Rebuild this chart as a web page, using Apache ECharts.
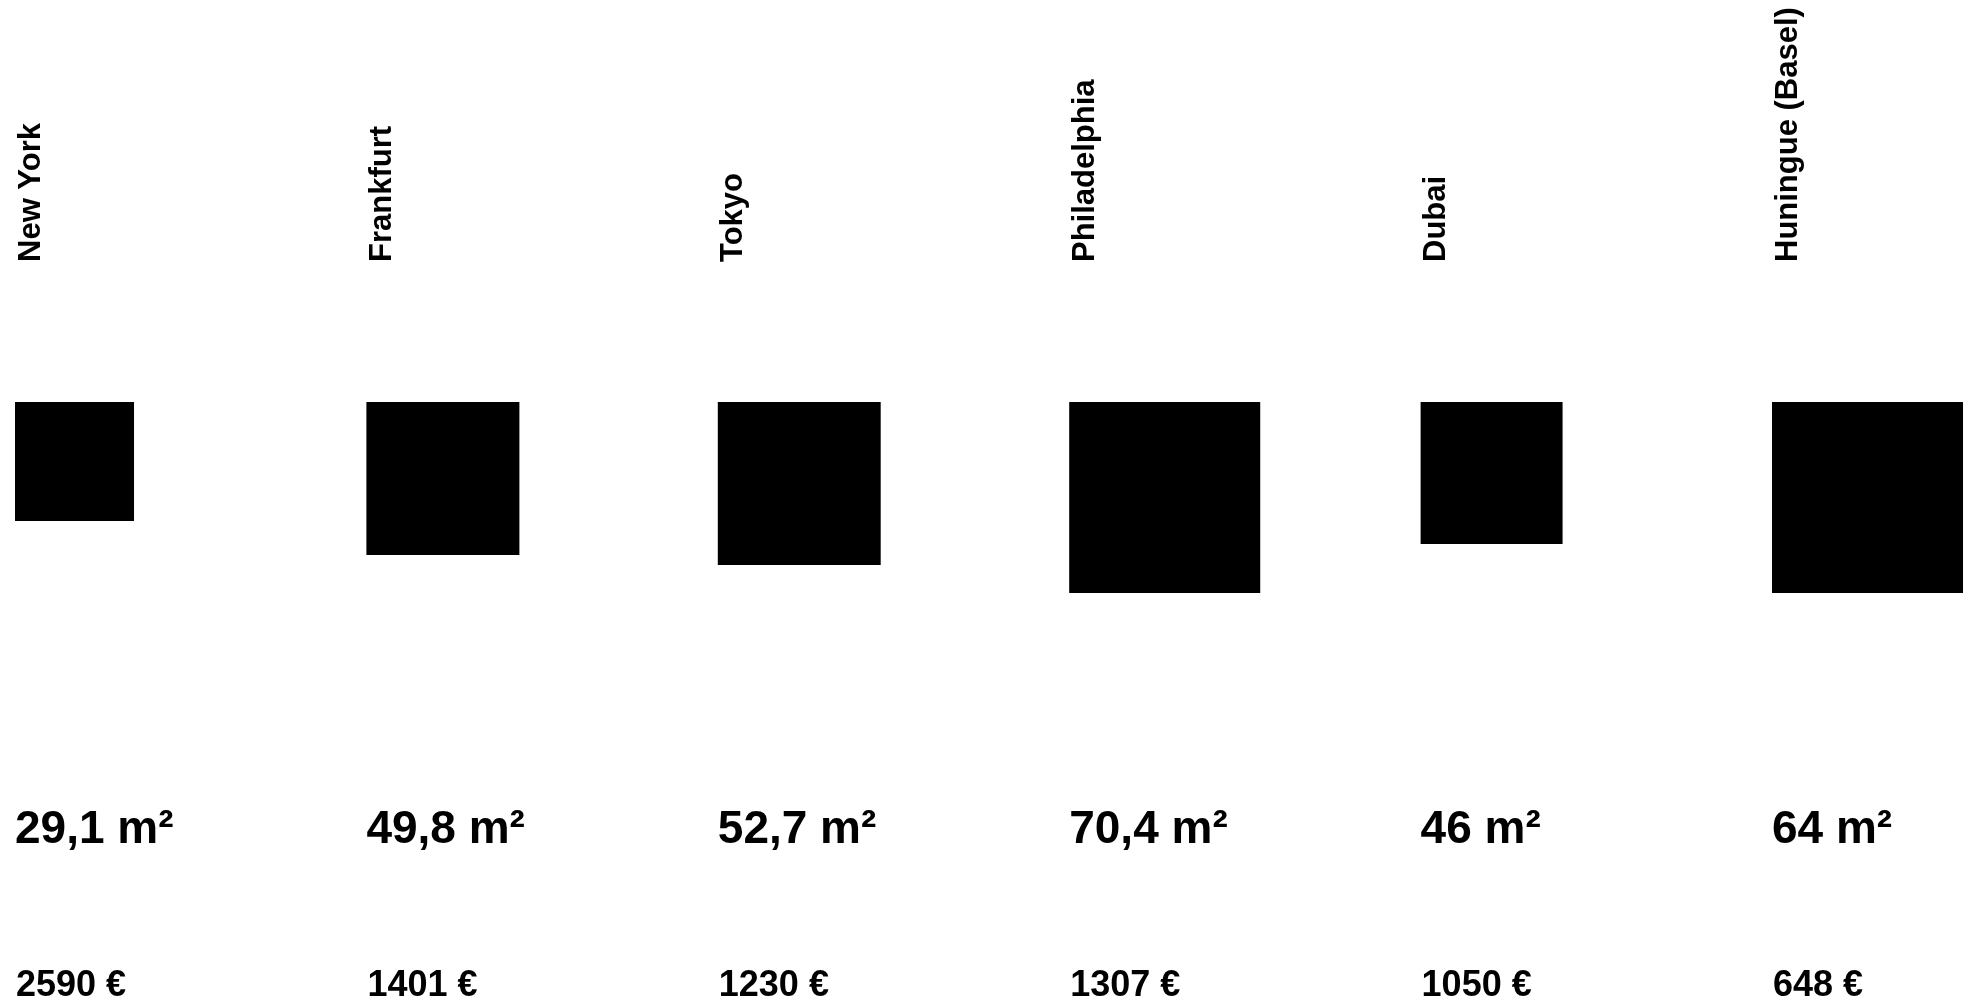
<!DOCTYPE html>
<html>
<head>
<meta charset="utf-8">
<script src="https://cdn.jsdelivr.net/npm/echarts@6/dist/echarts.min.js"></script>
<style>
  html, body { margin: 0; padding: 0; background: #ffffff; }
  #chart { width: 1969px; height: 1003px; }
</style>
</head>
<body>
<div id="chart"></div>
<script>
// ---- data ----
const cities = ['New York', 'Frankfurt', 'Tokyo', 'Philadelphia', 'Dubai', 'Huningue (Basel)'];
const areas = [29.1, 49.8, 52.7, 70.4, 46, 64];            // m²
const prices = [2590, 1401, 1230, 1307, 1050, 648];        // €
const squareSide = [5.29, 6.8, 7.24, 8.49, 6.31, 8.49];   // drawn side of each square, in axis units

const fontFamily = '"Liberation Sans", Arial, Helvetica, sans-serif';

const chart = echarts.init(document.getElementById('chart'), null, { renderer: 'canvas' });

const seriesData = cities.map((c, i) => [i, squareSide[i]]);

chart.setOption({
  backgroundColor: '#ffffff',
  animation: false,
  grid: { left: 15, right: 197, top: 402, height: 225 },
  xAxis: {
    type: 'category',
    data: cities,
    boundaryGap: false,
    show: false
  },
  yAxis: {
    type: 'value',
    min: 0,
    max: 10,
    inverse: true,
    show: false
  },
  series: [{
    type: 'custom',
    clip: false,
    data: seriesData,
    renderItem: function (params, api) {
      const idx = api.value(0);
      const top = api.coord([idx, 0]);
      const bottom = api.coord([idx, api.value(1)]);
      const side = bottom[1] - top[1];
      const x0 = top[0];
      const y0 = top[1];
      return {
        type: 'group',
        children: [
          {
            type: 'rect',
            shape: { x: x0, y: y0, width: side, height: side },
            style: { fill: '#000000' }
          },
          {
            type: 'text',
            x: x0 + 16,
            y: y0 - 140,
            rotation: Math.PI / 2,
            style: {
              text: cities[idx],
              fill: '#000000',
              fontFamily: fontFamily,
              fontWeight: 'bold',
              fontSize: 31,
              align: 'left',
              verticalAlign: 'middle'
            }
          },
          {
            type: 'text',
            x: x0,
            y: y0 + 428,
            style: {
              text: String(areas[idx]).replace('.', ',') + ' m\u00B2',
              fill: '#000000',
              fontFamily: fontFamily,
              fontWeight: 'bold',
              fontSize: 46,
              align: 'left',
              verticalAlign: 'middle'
            }
          },
          {
            type: 'text',
            x: x0 + 1,
            y: y0 + 584,
            style: {
              text: prices[idx] + ' \u20AC',
              fill: '#000000',
              fontFamily: fontFamily,
              fontWeight: 'bold',
              fontSize: 36,
              align: 'left',
              verticalAlign: 'middle'
            }
          }
        ]
      };
    }
  }]
});
</script>
</body>
</html>
